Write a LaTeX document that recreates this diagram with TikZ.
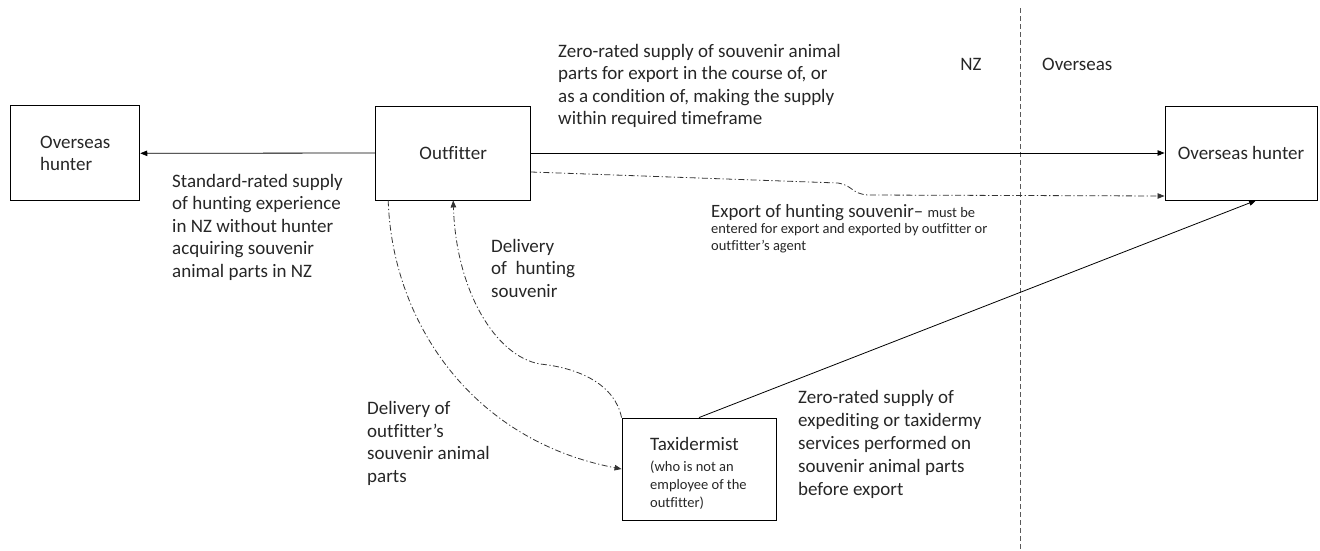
\documentclass[tikz,border=0pt]{standalone}
\usepackage{fontspec}
\setmainfont{Carlito}[Ligatures=NoCommon]
\usetikzlibrary{arrows.meta}
\begin{document}
\begin{tikzpicture}[x=1pt,y=-1pt,
  box/.style={draw=black, line width=0.9pt, inner sep=0pt, align=left,
    font=\fontsize{19}{22}\selectfont, text=black!85},
  % multi-line labels are placed by the baseline of their last line
  lbl/.style={anchor=base west, align=left, inner sep=0pt,
    font=\fontsize{19}{22.5}\selectfont, text=black!85},
  small/.style={anchor=base west, align=left, inner sep=0pt,
    font=\fontsize{14.5}{18}\selectfont, text=black!85},
  arr/.style={line width=0.8pt, -{Triangle[length=7pt,width=5.5pt]}},
  dd/.style={line width=0.8pt, draw=black!80,
    dash pattern=on 6pt off 2.5pt on 1.2pt off 2.5pt},
  border/.style={line width=0.8pt, draw=black!65, dash pattern=on 5pt off 3pt}]
\useasboundingbox (0,0) rectangle (1320,550);

% parties
\node[box, minimum width=129pt, minimum height=95pt] (lh) at (75.3,153.3) {Overseas\\hunter};
\node[box, minimum width=155pt, minimum height=94pt] (out) at (453.2,153) {Outfitter};
\node[box, minimum width=152pt, minimum height=94pt] (rh) at (1241,153) {Overseas hunter};
\node[box, minimum width=154pt, minimum height=102pt] (tax) at (699,469) {};
\node[lbl] (taxname) at (650,450) {Taxidermist};
\node[small] (taxnote) at (650,507) {(who is not an\\employee of the\\outfitter)};

% NZ / overseas border
\coordinate (bt) at (1020,8);
\coordinate (bb) at (1020,550);
\draw[border] (bt) -- (bb);
\node[lbl, anchor=base] (nz) at (971,70) {NZ};
\node[lbl] (os) at (1042,70) {Overseas};

% flows
\draw[arr] (out.west) -- (lh.east);
\draw[arr] (out.east) -- (rh.west);
\draw[dd, arr] ([yshift=-19pt]out.east) -- (838,183)
  .. controls (852,185) and (852,194) .. (868,195) -- ([yshift=-43pt]rh.west);
\draw[dd, arr] (tax.north west) .. controls (615,385) and (580,368) .. (540,364)
  .. controls (495,356) and (456,290) .. (out.south);
\draw[dd, arr] ([xshift=-65pt]out.south) .. controls (392,320) and (470,440) .. (tax.west);
\draw[arr] (tax.north) -- ([xshift=15pt]rh.south);

% flow labels
\node[lbl] (ztop) at (558,124.5) {Zero-rated supply of souvenir animal\\parts for export in the course of, or\\as a condition of, making the supply\\within required timeframe};
\node[lbl] (std) at (172,277) {Standard-rated supply\\of hunting experience\\in NZ without hunter\\acquiring souvenir\\animal parts in NZ};
\node[lbl] (delh) at (491,297) {Delivery\\of~ hunting\\souvenir};
\node[lbl] (delo) at (367,482) {Delivery of\\outfitter’s\\souvenir animal\\parts};
\node[lbl, font=\fontsize{19}{23}\selectfont] (zexp) at (798,495) {Zero-rated supply of\\expediting or taxidermy\\services performed on\\souvenir animal parts\\before export};
\node[lbl, font=\fontsize{18.8}{18}\selectfont] (exp) at (711,217) {Export of hunting souvenir– {\fontsize{14.5}{18}\selectfont must be}};
\node[small, font=\fontsize{14.5}{17}\selectfont] (expnote) at (711,250) {entered for export and exported by outfitter or\\outfitter’s agent};
\end{tikzpicture}
\end{document}
